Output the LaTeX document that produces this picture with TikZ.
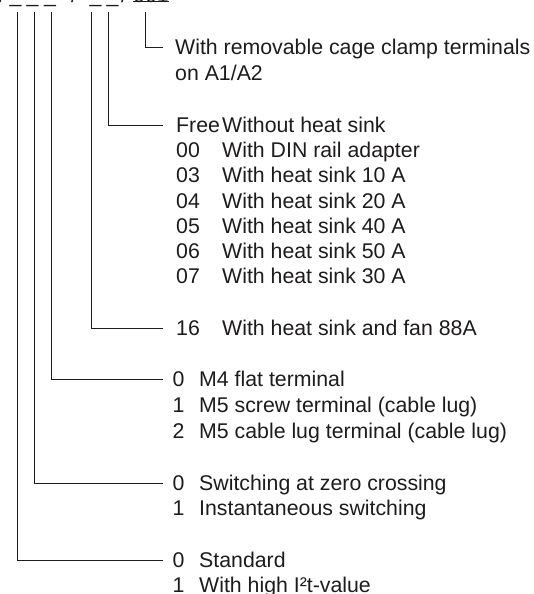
\documentclass[tikz,border=0pt]{standalone}
\usepackage{fontspec}
\setmainfont{Liberation Sans}
\definecolor{ink}{RGB}{30,27,28}
\begin{document}
\begin{tikzpicture}[x=1pt,y=-1pt,
  txt/.style={inner sep=0pt, anchor=west, text height=15pt, text depth=0pt,
              font=\fontsize{21.3}{25}\selectfont, text=ink},
  code/.style={inner sep=0pt, anchor=base west, font=\fontsize{21.3}{25}\selectfont, text=ink},
  conn/.style={draw=ink, line width=0.9pt}]
\useasboundingbox (0,0) rectangle (533,594);

% ordering code (top, partly cut off)
\node[code] (s0) at (-1,3) {/};
\node[code] (u1) at (9.5,3) {\_};
\node[code] (u2) at (26.5,3) {\_};
\node[code] (u3) at (44,3) {\_};
\node[code] (s1) at (71,3) {/};
\node[code] (u4) at (89.5,3) {\_};
\node[code] (u5) at (106.5,3) {\_};
\node[code] (s2) at (121,3) {/};
\node[code] (n0) at (133,3) {001};
\draw[conn] ([yshift=2pt]n0.base west) -- ([yshift=2pt]n0.base east);

% tops of the connectors
\coordinate (t1) at (17,12);
\coordinate (t2) at (34,12);
\coordinate (t3) at (51,12);
\coordinate (t4) at (91,12);
\coordinate (t5) at (108,12);
\coordinate (t6) at (145,12);
\coordinate (e) at (163,0);

% group: cage clamp
\node[txt] (a1) at (175,47) {With removable cage clamp terminals};
\node[txt] (a2) at (175,73) {on A1/A2};

% group: heat sink
\node[txt] (b0) at (176,125) {Free};
\node[txt] (b0d) at (222,125) {Without heat sink};
\node[txt] (b1) at (176,150.2) {00};
\node[txt] (b1d) at (222,150.2) {With DIN rail adapter};
\node[txt] (b2) at (176,175.4) {03};
\node[txt] (b2d) at (222,175.4) {With heat sink 10 A};
\node[txt] (b3) at (176,200.6) {04};
\node[txt] (b3d) at (222,200.6) {With heat sink 20 A};
\node[txt] (b4) at (176,225.8) {05};
\node[txt] (b4d) at (222,225.8) {With heat sink 40 A};
\node[txt] (b5) at (176,251) {06};
\node[txt] (b5d) at (222,251) {With heat sink 50 A};
\node[txt] (b6) at (176,276.2) {07};
\node[txt] (b6d) at (222,276.2) {With heat sink 30 A};

% group: fan
\node[txt] (c0) at (176,328) {16};
\node[txt] (c0d) at (222,328) {With heat sink and fan 88A};

% group: terminals
\node[txt] (d0) at (172.5,379) {0};
\node[txt] (d0d) at (199,379) {M4 flat terminal};
\node[txt] (d1) at (172.5,405) {1};
\node[txt] (d1d) at (199,405) {M5 screw terminal (cable lug)};
\node[txt] (d2) at (172.5,431) {2};
\node[txt] (d2d) at (199,431) {M5 cable lug terminal (cable lug)};

% group: switching
\node[txt] (f0) at (172.5,483) {0};
\node[txt] (f0d) at (199,483) {Switching at zero crossing};
\node[txt] (f1) at (172.5,508) {1};
\node[txt] (f1d) at (199,508) {Instantaneous switching};

% group: I2t
\node[txt] (g0) at (172.5,560) {0};
\node[txt] (g0d) at (199,560) {Standard};
\node[txt] (g1) at (172.5,584.5) {1};
\node[txt] (g1d) at (199,584.5) {With high I²t-value};

% connectors
\draw[conn] (t6) |- (a1.west -| e);
\draw[conn] (t5) |- (b0.west -| e);
\draw[conn] (t4) |- (c0.west -| e);
\draw[conn] (t3) |- (d0.west -| e);
\draw[conn] (t2) |- (f0.west -| e);
\draw[conn] (t1) |- (g0.west -| e);
\end{tikzpicture}
\end{document}
